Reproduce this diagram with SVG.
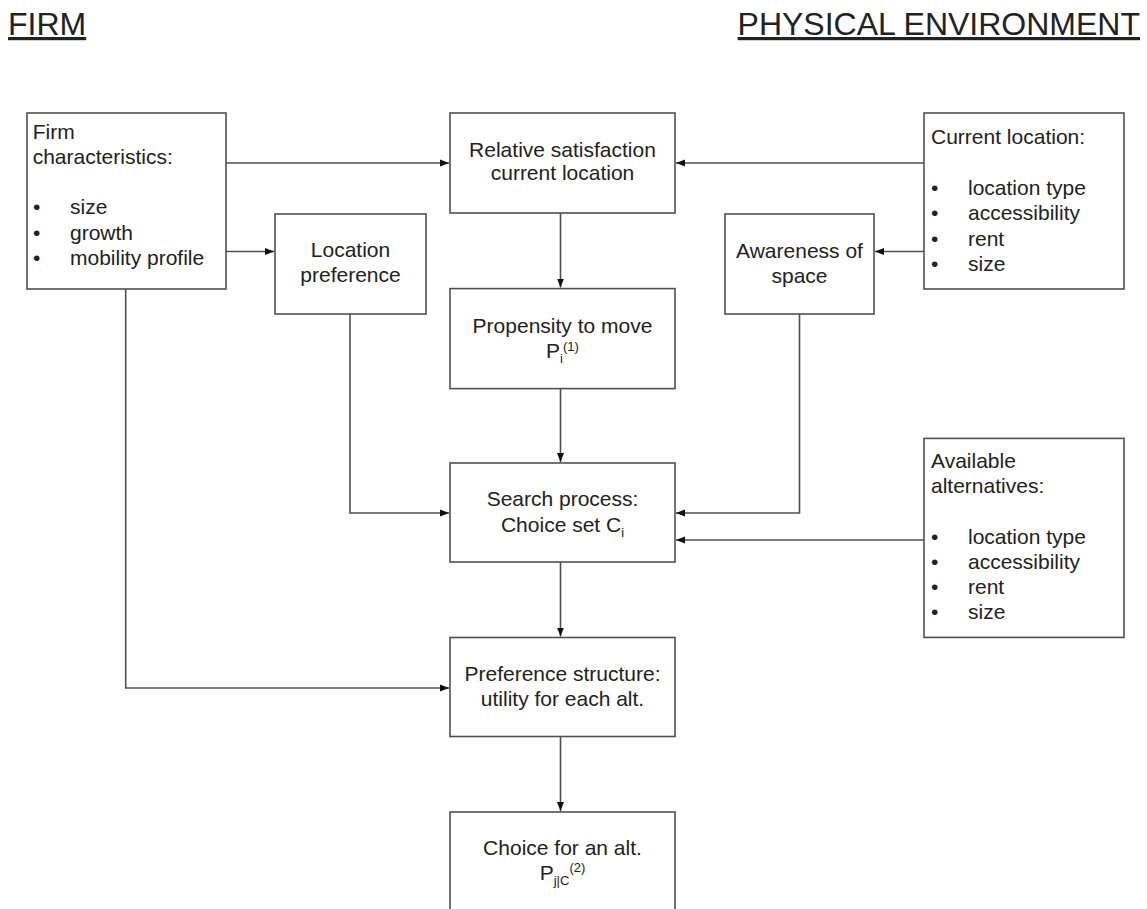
<svg xmlns="http://www.w3.org/2000/svg" width="1147" height="909" viewBox="0 0 1147 909">
<style>
text{font-family:"Liberation Sans",Arial,sans-serif;fill:#222;}
.h{font-size:32px;text-decoration:underline;}
.t{font-size:21px;}
.c{text-anchor:middle;}
.s{font-size:13px;}
rect{fill:#fff;stroke:#505050;stroke-width:1.6;}
.ln{fill:none;stroke:#505050;stroke-width:1.6;}
</style>
<defs>
<marker id="ah" markerUnits="userSpaceOnUse" markerWidth="10" markerHeight="8" refX="9" refY="4" orient="auto">
<path d="M0,0.5 L9,4 L0,7.5 z" fill="#111"/>
</marker>
</defs>
<rect x="0" y="0" width="1147" height="909" style="fill:#fff;stroke:none"/>
<text class="h" x="8" y="35">FIRM</text>
<text class="h" x="1140" y="35" text-anchor="end">PHYSICAL ENVIRONMENT</text>

<g id="connectors">
<path class="ln" d="M226,163 H449" marker-end="url(#ah)"/>
<path class="ln" d="M924,163 H676" marker-end="url(#ah)"/>
<path class="ln" d="M226,251.5 H274" marker-end="url(#ah)"/>
<path class="ln" d="M924,251.5 H875" marker-end="url(#ah)"/>
<path class="ln" d="M560.5,213 V287.5" marker-end="url(#ah)"/>
<path class="ln" d="M560.5,388.6 V462" marker-end="url(#ah)"/>
<path class="ln" d="M350,314 V513 H449" marker-end="url(#ah)"/>
<path class="ln" d="M799.5,314 V513 H676" marker-end="url(#ah)"/>
<path class="ln" d="M924,540 H676" marker-end="url(#ah)"/>
<path class="ln" d="M560.5,562 V636.5" marker-end="url(#ah)"/>
<path class="ln" d="M125.7,289 V688 H449" marker-end="url(#ah)"/>
<path class="ln" d="M560.5,736.5 V811" marker-end="url(#ah)"/>
</g>

<g id="firm">
<rect x="27" y="113" width="199" height="176"/>
<text class="t" x="32.7" y="139">Firm</text>
<text class="t" x="32.7" y="164">characteristics:</text>
<text class="t" x="33" y="214">•</text><text class="t" x="70" y="214">size</text>
<text class="t" x="33" y="240">•</text><text class="t" x="70" y="240">growth</text>
<text class="t" x="33" y="265">•</text><text class="t" x="70" y="265">mobility profile</text>
</g>

<g id="relsat">
<rect x="450" y="113" width="225" height="100"/>
<text class="t c" x="562.5" y="157">Relative satisfaction</text>
<text class="t c" x="562.5" y="180">current location</text>
</g>

<g id="curloc">
<rect x="924" y="113" width="200" height="176"/>
<text class="t" x="931" y="143.5">Current location:</text>
<text class="t" x="931" y="195">•</text><text class="t" x="968" y="195">location type</text>
<text class="t" x="931" y="220">•</text><text class="t" x="968" y="220">accessibility</text>
<text class="t" x="931" y="246">•</text><text class="t" x="968" y="246">rent</text>
<text class="t" x="931" y="271">•</text><text class="t" x="968" y="271">size</text>
</g>

<g id="locpref">
<rect x="275" y="214" width="151" height="100"/>
<text class="t c" x="350.5" y="257">Location</text>
<text class="t c" x="350.5" y="282">preference</text>
</g>

<g id="awareness">
<rect x="725" y="214" width="149" height="100"/>
<text class="t c" x="799.5" y="258">Awareness of</text>
<text class="t c" x="799.5" y="283">space</text>
</g>

<g id="propensity">
<rect x="450" y="288.6" width="225" height="100"/>
<text class="t c" x="562.5" y="332.5">Propensity to move</text>
<text class="t c" x="562.5" y="357.5">P<tspan class="s" dy="5">i</tspan><tspan class="s" dy="-12">(1)</tspan></text>
</g>

<g id="search">
<rect x="450" y="463" width="225" height="99"/>
<text class="t c" x="562.5" y="505.5">Search process:</text>
<text class="t c" x="562.5" y="532">Choice set C<tspan class="s" dy="5">i</tspan></text>
</g>

<g id="alternatives">
<rect x="924" y="438.4" width="200" height="199"/>
<text class="t" x="931" y="468">Available</text>
<text class="t" x="931" y="493">alternatives:</text>
<text class="t" x="931" y="544">•</text><text class="t" x="968" y="544">location type</text>
<text class="t" x="931" y="569">•</text><text class="t" x="968" y="569">accessibility</text>
<text class="t" x="931" y="594">•</text><text class="t" x="968" y="594">rent</text>
<text class="t" x="931" y="619">•</text><text class="t" x="968" y="619">size</text>
</g>

<g id="preference">
<rect x="450" y="637.5" width="225" height="99"/>
<text class="t c" x="562.5" y="680.5">Preference structure:</text>
<text class="t c" x="562.5" y="706">utility for each alt.</text>
</g>

<g id="choice">
<rect x="450" y="812" width="225" height="110"/>
<text class="t c" x="562.5" y="855">Choice for an alt.</text>
<text class="t c" x="562.5" y="880">P<tspan class="s" dy="5">j|C</tspan><tspan class="s" dy="-13">(2)</tspan></text>
</g>
</svg>
